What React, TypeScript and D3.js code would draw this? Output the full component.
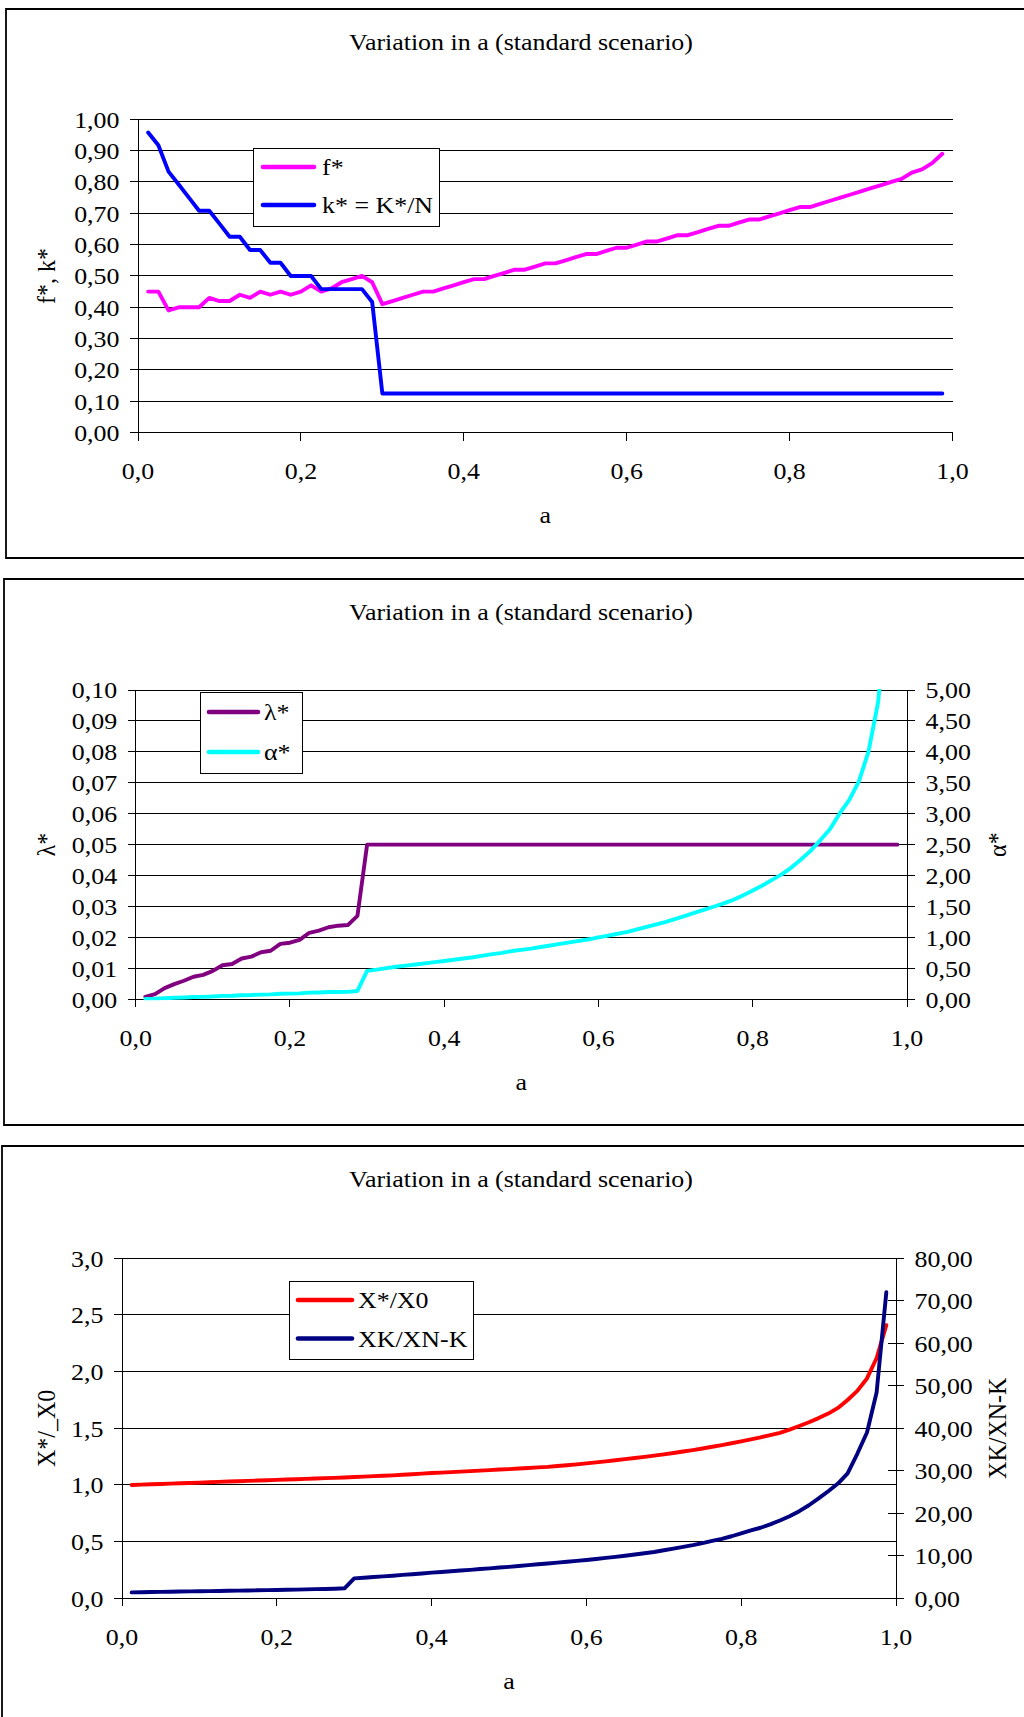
import React from 'react';
import * as d3 from 'd3';

// ---------- data ----------
const A_VALUES = [
  0.0125, 0.025, 0.0375, 0.05, 0.0625, 0.075, 0.0875, 0.1, 0.1125, 0.125,
  0.1375, 0.15, 0.1625, 0.175, 0.1875, 0.2, 0.2125, 0.225, 0.2375, 0.25,
  0.2625, 0.275, 0.2875, 0.3, 0.3125, 0.325, 0.3375, 0.35, 0.3625, 0.375,
  0.3875, 0.4, 0.4125, 0.425, 0.4375, 0.45, 0.4625, 0.475, 0.4875, 0.5,
  0.5125, 0.525, 0.5375, 0.55, 0.5625, 0.575, 0.5875, 0.6, 0.6125, 0.625,
  0.6375, 0.65, 0.6625, 0.675, 0.6875, 0.7, 0.7125, 0.725, 0.7375, 0.75,
  0.7625, 0.775, 0.7875, 0.8, 0.8125, 0.825, 0.8375, 0.85, 0.8625, 0.875,
  0.8875, 0.9, 0.9125, 0.925, 0.9375, 0.95, 0.9625, 0.975, 0.9875,
];

const F_STAR = [
  0.45, 0.45, 0.39, 0.40, 0.40, 0.40, 0.43, 0.42, 0.42, 0.44,
  0.43, 0.45, 0.44, 0.45, 0.44, 0.45, 0.47, 0.45, 0.46, 0.48,
  0.49, 0.50, 0.48, 0.41, 0.42, 0.43, 0.44, 0.45, 0.45, 0.46,
  0.47, 0.48, 0.49, 0.49, 0.50, 0.51, 0.52, 0.52, 0.53, 0.54,
  0.54, 0.55, 0.56, 0.57, 0.57, 0.58, 0.59, 0.59, 0.60, 0.61,
  0.61, 0.62, 0.63, 0.63, 0.64, 0.65, 0.66, 0.66, 0.67, 0.68,
  0.68, 0.69, 0.70, 0.71, 0.72, 0.72, 0.73, 0.74, 0.75, 0.76,
  0.77, 0.78, 0.79, 0.80, 0.81, 0.83, 0.84, 0.86, 0.89,
];

const K_STAR = [
  0.958, 0.917, 0.833, 0.792, 0.750, 0.708, 0.708, 0.667, 0.625, 0.625,
  0.583, 0.583, 0.542, 0.542, 0.500, 0.500, 0.500, 0.458, 0.458, 0.458,
  0.458, 0.458, 0.417, 0.125, 0.125, 0.125, 0.125, 0.125, 0.125, 0.125,
  0.125, 0.125, 0.125, 0.125, 0.125, 0.125, 0.125, 0.125, 0.125, 0.125,
  0.125, 0.125, 0.125, 0.125, 0.125, 0.125, 0.125, 0.125, 0.125, 0.125,
  0.125, 0.125, 0.125, 0.125, 0.125, 0.125, 0.125, 0.125, 0.125, 0.125,
  0.125, 0.125, 0.125, 0.125, 0.125, 0.125, 0.125, 0.125, 0.125, 0.125,
  0.125, 0.125, 0.125, 0.125, 0.125, 0.125, 0.125, 0.125, 0.125,
];

const LAMBDA_STAR = [
  0.0008, 0.0017, 0.0036, 0.0049, 0.0060, 0.0073, 0.0079, 0.0092, 0.0110, 0.0114,
  0.0132, 0.0138, 0.0152, 0.0157, 0.0179, 0.0183, 0.0192, 0.0215, 0.0222, 0.0233,
  0.0238, 0.0240, 0.0270, 0.05, 0.05, 0.05, 0.05, 0.05, 0.05, 0.05,
  0.05, 0.05, 0.05, 0.05, 0.05, 0.05, 0.05, 0.05, 0.05, 0.05,
  0.05, 0.05, 0.05, 0.05, 0.05, 0.05, 0.05, 0.05, 0.05, 0.05,
  0.05, 0.05, 0.05, 0.05, 0.05, 0.05, 0.05, 0.05, 0.05, 0.05,
  0.05, 0.05, 0.05, 0.05, 0.05, 0.05, 0.05, 0.05, 0.05, 0.05,
  0.05, 0.05, 0.05, 0.05, 0.05, 0.05, 0.05, 0.05, 0.05,
];

const ALPHA_STAR = [
  0.004, 0.008, 0.018, 0.025, 0.030, 0.037, 0.040, 0.046, 0.055, 0.057,
  0.066, 0.069, 0.076, 0.079, 0.090, 0.092, 0.096, 0.108, 0.111, 0.117,
  0.119, 0.120, 0.135, 0.46, 0.48, 0.505, 0.527, 0.545, 0.562, 0.58,
  0.60, 0.62, 0.64, 0.66, 0.68, 0.705, 0.73, 0.75, 0.78, 0.80,
  0.82, 0.845, 0.87, 0.895, 0.92, 0.945, 0.97, 1.00, 1.03, 1.06,
  1.09, 1.13, 1.17, 1.21, 1.25, 1.30, 1.35, 1.40, 1.45, 1.50,
  1.55, 1.61, 1.68, 1.76, 1.84, 1.93, 2.02, 2.13, 2.26, 2.40,
  2.57, 2.75, 3.00, 3.22, 3.52, 4.00, 4.80, 6.50, 9.50,
];

const X_RATIO = [
  1.000, 1.003, 1.006, 1.009, 1.012, 1.015, 1.018, 1.021, 1.024, 1.027,
  1.030, 1.033, 1.036, 1.039, 1.042, 1.045, 1.048, 1.051, 1.054, 1.057,
  1.060, 1.063, 1.066, 1.070, 1.074, 1.078, 1.081, 1.085, 1.090, 1.095,
  1.100, 1.105, 1.109, 1.113, 1.118, 1.122, 1.127, 1.131, 1.136, 1.140,
  1.145, 1.150, 1.155, 1.160, 1.167, 1.174, 1.182, 1.190, 1.199, 1.208,
  1.218, 1.228, 1.238, 1.248, 1.259, 1.270, 1.282, 1.295, 1.308, 1.322,
  1.337, 1.352, 1.368, 1.385, 1.402, 1.420, 1.440, 1.460, 1.488, 1.520,
  1.553, 1.590, 1.630, 1.680, 1.750, 1.830, 1.940, 2.120, 2.410,
];

const XK_RATIO = [
  1.40, 1.44, 1.48, 1.51, 1.55, 1.59, 1.62, 1.66, 1.70, 1.73,
  1.77, 1.81, 1.84, 1.88, 1.92, 1.96, 2.00, 2.05, 2.10, 2.15,
  2.20, 2.25, 2.35, 4.70, 4.85, 5.00, 5.15, 5.30, 5.50, 5.65,
  5.85, 6.05, 6.20, 6.35, 6.55, 6.70, 6.90, 7.05, 7.25, 7.40,
  7.60, 7.80, 8.00, 8.20, 8.40, 8.60, 8.80, 9.00, 9.25, 9.50,
  9.75, 10.00, 10.30, 10.60, 10.90, 11.30, 11.70, 12.10, 12.50, 13.00,
  13.50, 14.00, 14.60, 15.30, 16.00, 16.60, 17.40, 18.30, 19.30, 20.50,
  21.90, 23.50, 25.20, 27.00, 29.40, 34.00, 39.00, 48.50, 72.00,
];

const X_TICKS = [0, 0.2, 0.4, 0.6, 0.8, 1.0];
const Y1_TICKS = [0, 0.1, 0.2, 0.3, 0.4, 0.5, 0.6, 0.7, 0.8, 0.9, 1.0];
const Y2L_TICKS = [0, 0.01, 0.02, 0.03, 0.04, 0.05, 0.06, 0.07, 0.08, 0.09, 0.1];
const Y2R_TICKS = [0, 0.5, 1.0, 1.5, 2.0, 2.5, 3.0, 3.5, 4.0, 4.5, 5.0];
const Y3L_TICKS = [0, 0.5, 1.0, 1.5, 2.0, 2.5, 3.0];
const Y3R_TICKS = [0, 10, 20, 30, 40, 50, 60, 70, 80];

const TITLE = 'Variation in a (standard scenario)';
const X_TITLE = 'a';

// ---------- drawing helpers ----------
const FONT = "'Liberation Serif', 'Times New Roman', Times, serif";
const SX = 1.08;
const FS = 24;

const fmt = (n: number) => (v: number) => v.toFixed(n).replace('.', ',');

function T({ x, y, anchor = 'middle', rotate = 0, size = FS, children }: any) {
  return (
    <text
      transform={`translate(${x},${y}) scale(${SX},1)${rotate ? ` rotate(${rotate})` : ''}`}
      textAnchor={anchor}
      dy="0.35em"
      fontFamily={FONT}
      fontSize={size}
      fill="#000"
    >
      {children}
    </text>
  );
}

type SeriesDef = { values: number[]; color: string; axis: 'left' | 'right'; label: string };

function Chart(props: any) {
  const {
    id, box, plot, leftDomain, leftTicks, leftFmt, leftTitle,
    rightDomain, rightTicks, rightFmt, rightTitle, series, legend,
  } = props;
  const x = d3.scaleLinear().domain([0, 1]).range([plot.x0, plot.x1]);
  const yl = d3.scaleLinear().domain(leftDomain).range([plot.yBottom, plot.yTop]);
  const yr = rightDomain ? d3.scaleLinear().domain(rightDomain).range([plot.yBottom, plot.yTop]) : null;
  const titleY = box.top + 33;
  const xTickLabelY = plot.yBottom + 38;
  const xTitleY = plot.yBottom + 82;
  const midY = (plot.yTop + plot.yBottom) / 2;
  const midX = (plot.x0 + plot.x1) / 2;

  return (
    <g>
      <defs>
        <clipPath id={`clip-${id}`}>
          <rect x={plot.x0} y={plot.yTop - 1} width={plot.x1 - plot.x0 + 10} height={plot.yBottom - plot.yTop + 2} />
        </clipPath>
      </defs>
      {/* outer box */}
      <path
        d={`M${box.right},${box.top} H${box.left} V${box.bottom} H${box.right}`}
        fill="none"
        stroke="#000"
        strokeWidth={1.8}
      />
      <T x={521} y={titleY}>{TITLE}</T>

      {/* gridlines */}
      {leftTicks.map((t: number) => (
        <line key={`g${t}`} x1={plot.x0} x2={plot.x1} y1={yl(t)} y2={yl(t)} stroke="#000" strokeWidth={1} shapeRendering="crispEdges" />
      ))}
      {/* left axis */}
      <line x1={plot.x0} x2={plot.x0} y1={plot.yTop} y2={plot.yBottom} stroke="#000" strokeWidth={1} shapeRendering="crispEdges" />
      {leftTicks.map((t: number) => (
        <g key={`lt${t}`}>
          <line x1={plot.x0 - 8} x2={plot.x0} y1={yl(t)} y2={yl(t)} stroke="#000" strokeWidth={1} shapeRendering="crispEdges" />
          <T x={plot.x0 - 18.5} y={yl(t)} anchor="end">{leftFmt(t)}</T>
        </g>
      ))}
      <T x={46} y={midY} rotate={-90}>{leftTitle}</T>

      {/* right axis */}
      {yr && (
        <g>
          <line x1={plot.x1} x2={plot.x1} y1={plot.yTop} y2={plot.yBottom} stroke="#000" strokeWidth={1} shapeRendering="crispEdges" />
          {rightTicks.map((t: number) => (
            <g key={`rt${t}`}>
              <line x1={plot.x1 - 8} x2={plot.x1 + 8} y1={yr(t)} y2={yr(t)} stroke="#000" strokeWidth={1} shapeRendering="crispEdges" />
              <T x={plot.x1 + 18.5} y={yr(t)} anchor="start">{rightFmt(t)}</T>
            </g>
          ))}
          <T x={997} y={midY} rotate={-90}>{rightTitle}</T>
        </g>
      )}

      {/* x axis */}
      <line x1={plot.x0} x2={plot.x1} y1={plot.yBottom} y2={plot.yBottom} stroke="#000" strokeWidth={1} shapeRendering="crispEdges" />
      {X_TICKS.map((t) => (
        <g key={`xt${t}`}>
          <line x1={x(t)} x2={x(t)} y1={plot.yBottom} y2={plot.yBottom + 8} stroke="#000" strokeWidth={1} shapeRendering="crispEdges" />
          <T x={x(t)} y={xTickLabelY}>{fmt(1)(t)}</T>
        </g>
      ))}
      <T x={midX} y={xTitleY}>{X_TITLE}</T>

      {/* series */}
      <g clipPath={`url(#clip-${id})`}>
        {series.map((s: SeriesDef, si: number) => {
          const ys = s.axis === 'left' ? yl : (yr as any);
          const line = d3
            .line<number>()
            .x((_, i) => x(A_VALUES[i]))
            .y((v) => ys(v));
          return (
            <path
              key={`s${si}`}
              d={line(s.values) || ''}
              fill="none"
              stroke={s.color}
              strokeWidth={3.9}
              strokeLinejoin="round"
              strokeLinecap="round"
            />
          );
        })}
      </g>

      {/* legend */}
      <rect x={legend.x} y={legend.y} width={legend.w} height={legend.h} fill="#fff" stroke="#000" strokeWidth={1} shapeRendering="crispEdges" />
      {series.map((s: SeriesDef, si: number) => (
        <g key={`lg${si}`}>
          <line
            x1={legend.lx0}
            x2={legend.lx1}
            y1={legend.rows[si]}
            y2={legend.rows[si]}
            stroke={s.color}
            strokeWidth={4.6}
            strokeLinecap="round"
          />
          <T x={legend.tx} y={legend.rows[si]} anchor="start">{s.label}</T>
        </g>
      ))}
    </g>
  );
}

export default function App() {
  return (
    <svg
      width={1024}
      height={1717}
      viewBox="0 0 1024 1717"
      style={{ position: 'absolute', left: 0, top: 0, display: 'block', background: '#fff' }}
    >
      <rect x={0} y={0} width={1024} height={1717} fill="#fff" />
      <Chart
        id="c1"
        box={{ left: 6, top: 9, bottom: 558, right: 1040 }}
        plot={{ x0: 138, x1: 952.5, yTop: 119.3, yBottom: 432.6 }}
        leftDomain={[0, 1]}
        leftTicks={Y1_TICKS}
        leftFmt={fmt(2)}
        leftTitle="f*, k*"
        series={[
          { values: F_STAR, color: '#FF00FF', axis: 'left', label: 'f*' },
          { values: K_STAR, color: '#0000FF', axis: 'left', label: 'k* = K*/N' },
        ]}
        legend={{ x: 253, y: 148, w: 186, h: 78, lx0: 263, lx1: 314, tx: 322, rows: [167, 205] }}
      />
      <Chart
        id="c2"
        box={{ left: 4, top: 579, bottom: 1125, right: 1040 }}
        plot={{ x0: 135.7, x1: 907, yTop: 690, yBottom: 999.3 }}
        leftDomain={[0, 0.1]}
        leftTicks={Y2L_TICKS}
        leftFmt={fmt(2)}
        leftTitle="λ*"
        rightDomain={[0, 5]}
        rightTicks={Y2R_TICKS}
        rightFmt={fmt(2)}
        rightTitle="α*"
        series={[
          { values: LAMBDA_STAR, color: '#800080', axis: 'left', label: 'λ*' },
          { values: ALPHA_STAR, color: '#00FFFF', axis: 'right', label: 'α*' },
        ]}
        legend={{ x: 200, y: 692, w: 102, h: 81, lx0: 209, lx1: 258, tx: 264, rows: [712, 752] }}
      />
      <Chart
        id="c3"
        box={{ left: 2, top: 1146, bottom: 1740, right: 1040 }}
        plot={{ x0: 122, x1: 896, yTop: 1258.3, yBottom: 1598.3 }}
        leftDomain={[0, 3]}
        leftTicks={Y3L_TICKS}
        leftFmt={fmt(1)}
        leftTitle="X*/_X0"
        rightDomain={[0, 80]}
        rightTicks={Y3R_TICKS}
        rightFmt={fmt(2)}
        rightTitle="XK/XN-K"
        series={[
          { values: X_RATIO, color: '#FF0000', axis: 'left', label: 'X*/X0' },
          { values: XK_RATIO, color: '#000080', axis: 'right', label: 'XK/XN-K' },
        ]}
        legend={{ x: 289, y: 1281.5, w: 184, h: 77.5, lx0: 298, lx1: 352, tx: 358, rows: [1300, 1338.5] }}
      />
    </svg>
  );
}
